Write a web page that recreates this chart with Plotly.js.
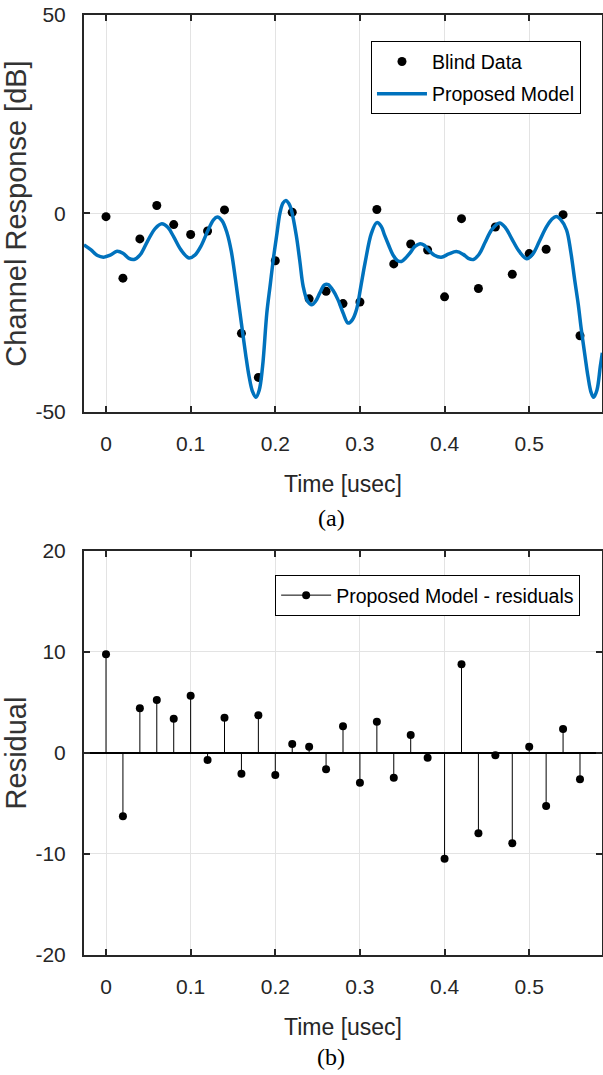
<!DOCTYPE html>
<html>
<head>
<meta charset="utf-8">
<script src="https://cdn.plot.ly/plotly-3.0.1.min.js"></script>
<style>html,body{margin:0;padding:0;background:#fff;}#chart{width:603px;height:1075px;}</style>
</head>
<body>
<div id="chart"></div>
<script>
// Sample times [usec]
var sampleTime = [0,0.02,0.04,0.06,0.08,0.10,0.12,0.14,0.16,0.18,0.20,0.22,0.24,0.26,0.28,0.30,0.32,0.34,0.36,0.38,0.40,0.42,0.44,0.46,0.48,0.50,0.52,0.54,0.56];
// Blind data [dB]
var blindData = [-0.8,-16.3,-6.4,2.0,-2.8,-5.3,-4.4,0.9,-30.2,-41.3,-11.9,0.3,-21.5,-19.6,-22.7,-22.3,1.0,-12.7,-7.7,-9.2,-21.0,-1.3,-18.9,-3.4,-15.3,-10.1,-9.0,-0.3,-30.8];
// Residuals
var residuals = [9.77,-6.27,4.42,5.25,3.4,5.68,-0.69,3.5,-2.05,3.73,-2.18,0.89,0.63,-1.62,2.64,-2.94,3.1,-2.44,1.78,-0.46,-10.46,8.78,-7.95,-0.23,-8.94,0.63,-5.25,2.38,-2.6];
// Proposed model curve
var modelTime = [-0.026,-0.018,-0.010,-0.003,0.005,0.013,0.020,0.027,0.033,0.040,0.049,0.058,0.066,0.073,0.080,0.089,0.098,0.105,0.112,0.120,0.127,0.1315,0.137,0.143,0.148,0.153,0.157,0.161,0.165,0.169,0.173,0.177,0.181,0.185,0.190,0.194,0.198,0.202,0.2055,0.209,0.2125,0.216,0.219,0.225,0.229,0.233,0.238,0.243,0.248,0.2527,0.258,0.2625,0.268,0.274,0.280,0.286,0.291,0.296,0.301,0.306,0.3137,0.320,0.325,0.329,0.334,0.339,0.344,0.349,0.354,0.359,0.365,0.371,0.376,0.3805,0.388,0.396,0.405,0.414,0.422,0.428,0.434,0.441,0.4475,0.456,0.465,0.472,0.479,0.488,0.497,0.504,0.512,0.520,0.527,0.532,0.537,0.544,0.549,0.5537,0.558,0.5616,0.566,0.5694,0.573,0.576,0.580,0.584,0.5864];
var modelValue = [-7.9,-9.1,-10.6,-11.0,-10.5,-9.5,-10.0,-11.3,-11.6,-10.5,-7.0,-3.8,-2.6,-3.5,-5.9,-9.3,-11.2,-10.5,-8.3,-4.5,-1.6,-0.9,-1.8,-4.9,-9.5,-16.7,-23.0,-29.3,-35.5,-41.0,-44.8,-46.3,-44.5,-38.5,-25.1,-18.0,-11.0,-5.0,0.1,2.6,3.3,2.5,0.9,-5.8,-12.0,-18.4,-22.0,-23.0,-22.0,-20.0,-18.0,-17.9,-19.3,-21.7,-25.0,-27.6,-26.8,-24.2,-18.5,-12.5,-4.9,-2.3,-3.2,-5.4,-8.0,-10.4,-11.8,-12.1,-11.2,-10.0,-8.3,-7.6,-8.0,-9.1,-10.5,-11.0,-10.2,-9.6,-10.3,-11.3,-11.6,-10.2,-7.45,-4.0,-2.4,-3.6,-6.2,-9.5,-11.4,-10.3,-7.0,-3.5,-1.4,-0.75,-1.5,-4.1,-9.5,-16.7,-23.0,-29.3,-36.0,-41.0,-45.0,-46.3,-44.5,-38.5,-35.1];
var xTickVals = [0,0.1,0.2,0.3,0.4,0.5];
var xTickText = ['0','0.1','0.2','0.3','0.4','0.5'];
var y1TickVals = [-50,0,50];
var y1TickText = ['-50','0','50'];
var y2TickVals = [-20,-10,0,10,20];
var y2TickText = ['-20','-10','0','10','20'];

// stems built from residual arrays
var stemX = [], stemY = [], stemColor = [];
for (var i = 0; i < sampleTime.length; i++) {
  stemX.push(sampleTime[i], sampleTime[i], null);
  stemY.push(residuals[i], 0, null);
  stemColor.push('#000000', 'rgba(0,0,0,0)', 'rgba(0,0,0,0)');
}

var FONT = 'Liberation Sans, Arial, sans-serif';
var AX = '#262626';
var GRID = '#e3e3e3';

var traces = [
  {x: sampleTime, y: blindData, mode: 'markers', type: 'scatter', name: 'Blind Data',
   marker: {color: '#000', size: 9}, xaxis: 'x', yaxis: 'y', legend: 'legend', legendgroup: 'a'},
  {x: modelTime, y: modelValue, mode: 'lines', type: 'scatter', name: 'Proposed Model',
   line: {color: '#0072BD', width: 3.5, shape: 'spline', smoothing: 1}, xaxis: 'x', yaxis: 'y', legend: 'legend', legendgroup: 'b'},
  {x: stemX, y: stemY, mode: 'lines+markers', type: 'scatter', name: 'Proposed Model - residuals',
   line: {color: '#000', width: 1}, marker: {color: stemColor, size: 8},
   xaxis: 'x2', yaxis: 'y2', legend: 'legend2', connectgaps: false}
];

function xax(anchor) {
  return {
    anchor: anchor, range: [-0.026, 0.586], tickvals: xTickVals, ticktext: xTickText,
    showgrid: true, gridcolor: GRID, gridwidth: 1, zeroline: false,
    showline: true, linecolor: AX, linewidth: 2, mirror: 'ticks',
    ticks: 'inside', ticklen: 6, tickwidth: 2, tickcolor: AX,
    tickfont: {family: FONT, size: 21, color: AX}, ticklabelstandoff: 12,
    title: {text: 'Time [usec]', font: {family: FONT, size: 23, color: AX}, standoff: 22}
  };
}

function yax(domain, range, tv, tt, title) {
  return {
    domain: domain, range: range, tickvals: tv, ticktext: tt,
    showgrid: true, gridcolor: GRID, zeroline: false,
    showline: true, linecolor: AX, linewidth: 2, mirror: 'ticks',
    ticks: 'inside', ticklen: 6, tickwidth: 2, tickcolor: AX,
    tickfont: {family: FONT, size: 21, color: AX}, ticklabelstandoff: 12,
    title: {text: title, font: {family: FONT, size: 29, color: '#333'}, standoff: 2}
  };
}

var layout = {
  width: 603, height: 1075,
  margin: {l: 84, r: 1, t: 15, b: 120},
  paper_bgcolor: '#fff', plot_bgcolor: '#fff',
  showlegend: true,
  xaxis: xax('y'),
  xaxis2: xax('y2'),
  yaxis: yax([0.5777, 1], [-50, 50], y1TickVals, y1TickText, 'Channel Response [dB]'),
  yaxis2: Object.assign(yax([0, 0.4298], [-20, 20], y2TickVals, y2TickText, 'Residual'),
    {zeroline: true, zerolinecolor: '#000', zerolinewidth: 1.5}),
  legend: {
    x: 0.554, y: 0.972, xanchor: 'left', yanchor: 'top',
    bgcolor: '#fff', bordercolor: '#000', borderwidth: 1,
    font: {family: FONT, size: 19.5, color: '#000'}, itemwidth: 50,
    traceorder: 'grouped', tracegroupgap: 4
  },
  legend2: {
    x: 0.369, y: 0.4043, xanchor: 'left', yanchor: 'top',
    bgcolor: '#fff', bordercolor: '#000', borderwidth: 1,
    font: {family: FONT, size: 19.5, color: '#000'}, itemwidth: 50
  },
  annotations: [
    {text: '(a)', xref: 'paper', yref: 'paper', x: 0.477, y: 0.4649, xanchor: 'center', yanchor: 'middle',
     showarrow: false, font: {family: 'Liberation Serif, Times New Roman, serif', size: 24, color: '#000'}},
    {text: '(b)', xref: 'paper', yref: 'paper', x: 0.477, y: -0.1085, xanchor: 'center', yanchor: 'middle',
     showarrow: false, font: {family: 'Liberation Serif, Times New Roman, serif', size: 24, color: '#000'}}
  ]
};

Plotly.newPlot('chart', traces, layout, {displayModeBar: false, staticPlot: true});
</script>
</body>
</html>
